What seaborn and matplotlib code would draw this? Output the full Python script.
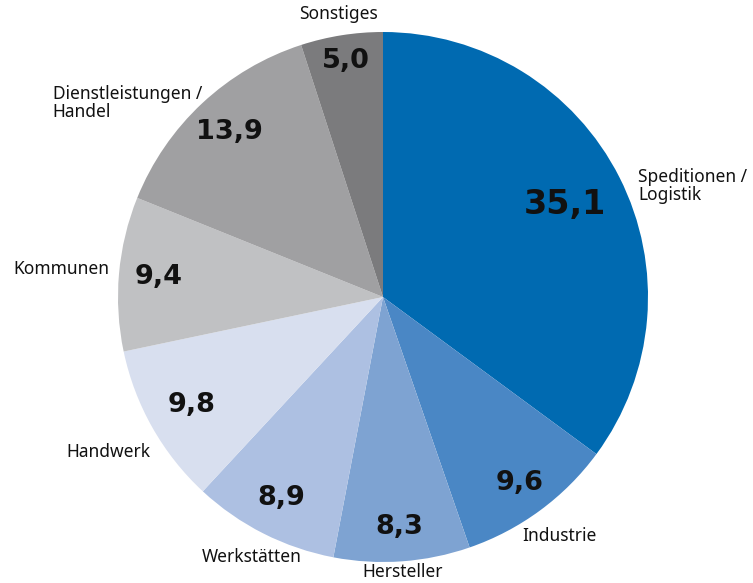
import numpy as np
import matplotlib
matplotlib.use("Agg")
import matplotlib.pyplot as plt
import seaborn as sns

# Daten
categories = ["Speditionen /\nLogistik", "Industrie", "Hersteller", "Werkstätten",
              "Handwerk", "Kommunen", "Dienstleistungen /\nHandel", "Sonstiges"]
values = [35.1, 9.6, 8.3, 8.9, 9.8, 9.4, 13.9, 5.0]
colors = ["#006ab1", "#4a87c5", "#7ea3d2", "#adc0e2",
          "#d8dfef", "#c0c1c3", "#a0a0a2", "#7b7b7d"]

# Position der Beschriftungen (Radius relativ, Ausrichtung)
value_radius = [0.77, 0.87, 0.87, 0.85, 0.83, 0.85, 0.85, 0.90]
value_size = [24, 19.5, 19.5, 19.5, 19.5, 19.5, 19.5, 19.5]
label_radius = [1.08, 1.12, 1.04, 1.10, 1.19, 1.22, 1.00, 1.08]
label_ha = ["left", "center", "center", "center", "center", "center", "right", "center"]
label_va = ["top", "center", "center", "center", "center", "center", "center", "center"]

sns.set_theme(style="white")
plt.rcParams["font.family"] = ["Noto Sans", "DejaVu Sans"]

W, H = 753, 583
cx, cy, R = 383, 297, 265
fig = plt.figure(figsize=(W / 100, H / 100), dpi=100)
ax = fig.add_axes([0, 0, 1, 1])

wedges, _ = ax.pie(values, colors=colors, startangle=90, counterclock=False,
                   radius=1.0, wedgeprops=dict(linewidth=0))

ax.set_xlim(-cx / R, (W - cx) / R)
ax.set_ylim(-(H - cy) / R, cy / R)
ax.set_aspect("equal")
ax.axis("off")

for i, w in enumerate(wedges):
    ang = np.deg2rad((w.theta1 + w.theta2) / 2)
    vr = value_radius[i]
    ax.text(vr * np.cos(ang), vr * np.sin(ang), f"{values[i]:.1f}".replace(".", ","),
            ha="center", va="center", fontsize=value_size[i], fontweight="bold",
            family="DejaVu Sans", color="#111111")
    lr = label_radius[i]
    ax.text(lr * np.cos(ang), lr * np.sin(ang), categories[i],
            ha=label_ha[i], va=label_va[i], multialignment="left",
            fontsize=12.5, color="#111111", linespacing=1.0)

fig.savefig("out.png", dpi=100)
